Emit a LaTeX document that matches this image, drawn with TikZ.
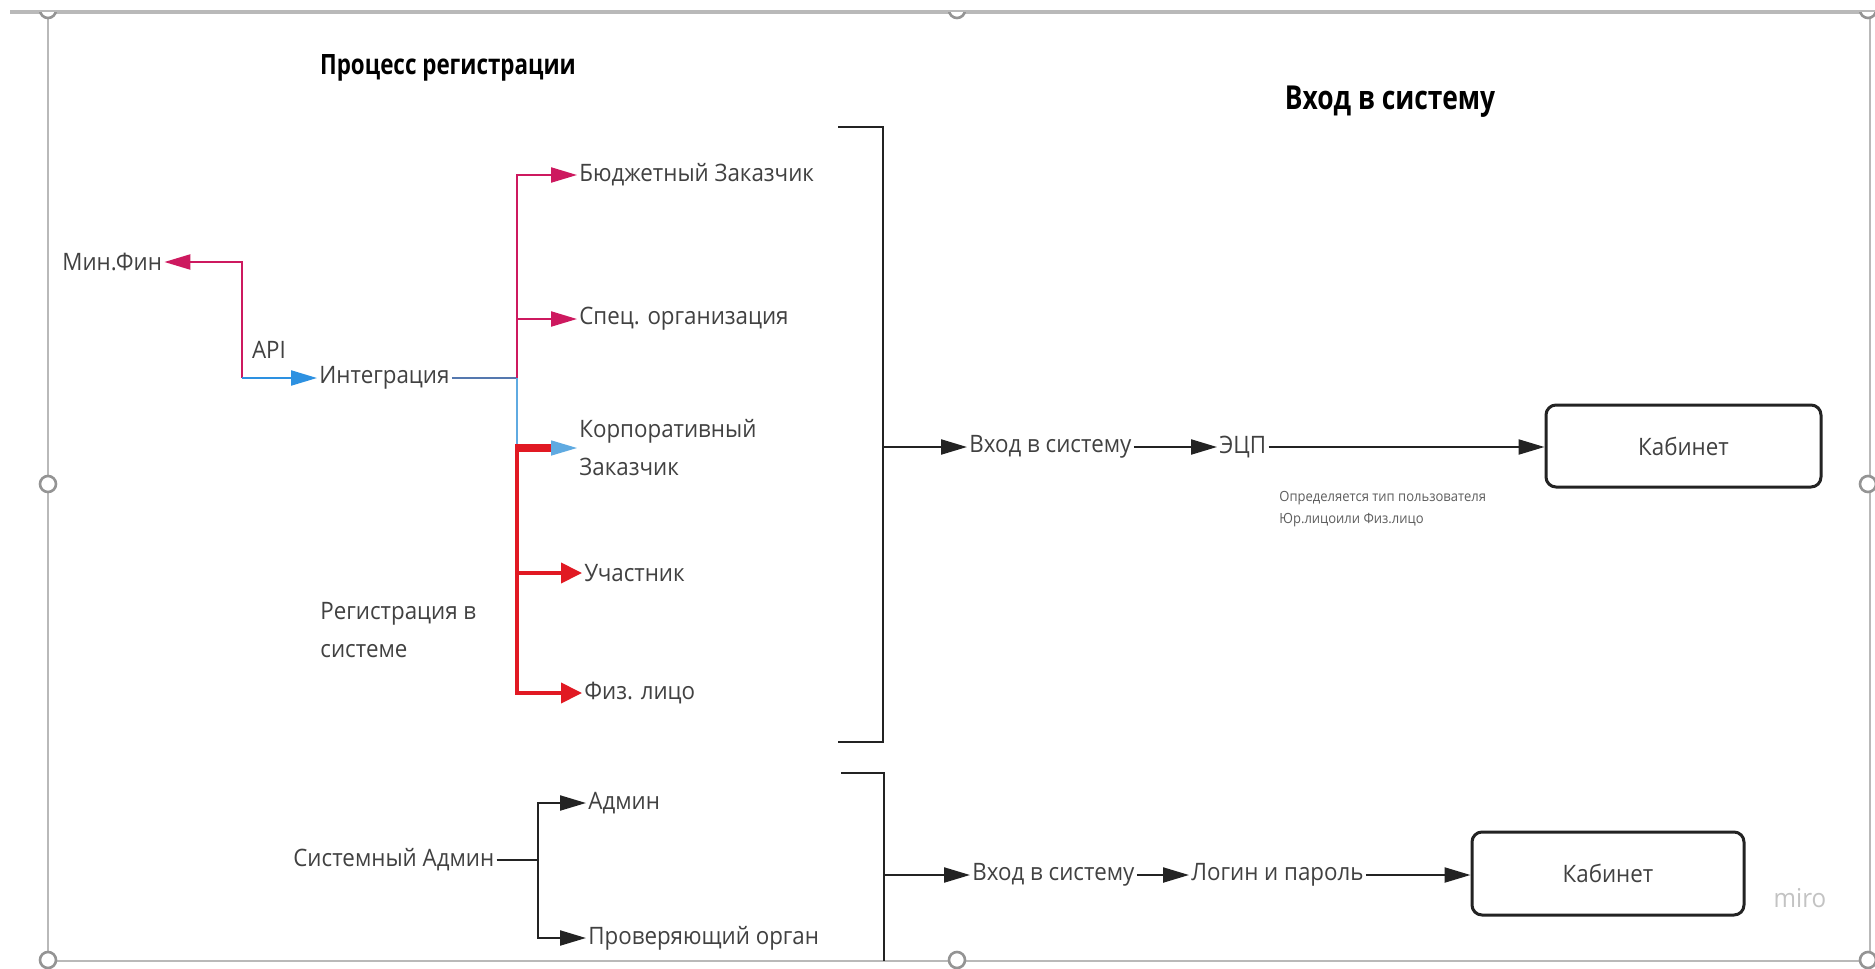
\documentclass[tikz,border=0pt]{standalone}
\usepackage{fontspec}
\setmainfont{Open Sans}[FakeStretch=0.93]
\newfontfamily\headfont{Open Sans}[FakeStretch=0.8]
\usetikzlibrary{arrows.meta,calc}

\definecolor{mag}{RGB}{205,25,95}
\definecolor{apiblue}{RGB}{45,145,225}
\definecolor{steel}{RGB}{85,120,175}
\definecolor{lblue}{RGB}{95,170,225}
\definecolor{rd}{RGB}{225,25,35}
\definecolor{ink}{RGB}{35,35,35}
\definecolor{txtc}{RGB}{65,65,65}
\definecolor{framec}{RGB}{185,185,185}
\definecolor{miroc}{RGB}{195,195,195}

\tikzset{
  txt/.style={inner sep=1pt, anchor=west, text=txtc, font=\fontsize{12}{14}\selectfont},
  heading/.style={inner sep=0pt, text=black, font=\headfont\bfseries\fontsize{14}{16}\selectfont},
  notetxt/.style={inner sep=0pt, anchor=west, text=txtc!85, font=\fontsize{7}{11}\selectfont},
  cabbox/.style={draw=ink, line width=1.5pt, rounded corners=5pt, text=txtc,
    font=\fontsize{12}{14}\selectfont},
  tipA/.style={-{Triangle[length=13pt,width=7.5pt]}},
  tipR/.style={-{Triangle[length=10.5pt,width=10pt]}},
  magline/.style={draw=mag, line width=1.1pt, tipA},
  apiline/.style={draw=apiblue, line width=1.1pt, tipA},
  steelline/.style={draw=steel, line width=0.9pt},
  lblueline/.style={draw=lblue, line width=0.8pt, tipA},
  redline/.style={draw=rd, line width=2pt, tipR},
  blkline/.style={draw=ink, line width=1.1pt},
  blkarrow/.style={blkline, tipA},
  bracket/.style={draw=ink, line width=1.1pt},
  framel/.style={draw=framec, line width=1.2pt},
  handle/.style={draw=framec!80!black, line width=1.3pt, fill=white},
}

\begin{document}
\begin{tikzpicture}[x=0.5pt,y=-0.5pt]
\useasboundingbox (0,0) rectangle (1875,969);
\fill[white] (0,0) rectangle (1875,969);

% selection frame with its handles
\draw[framel, line width=1.6pt] (10,12) -- (1875,12);
\draw[framel] (48,12) -- (48,961) -- (1875,961);
\draw[framel] (1870,12) -- (1870,969);
\begin{scope}
  \clip (0,12) rectangle (1875,40);
  \foreach \hx in {48,957,1868} \draw[handle] (\hx,10) circle[radius=4pt];
\end{scope}
\foreach \hx/\hy in {48/484,1868/484,48/960,957/960,1868/960}
  \draw[handle] (\hx,\hy) circle[radius=4pt];

% headings
\node[heading] (t1) at (448,68) {Процесс регистрации};
\node[heading, font=\headfont\bfseries\fontsize{16.5}{18}\selectfont] (t2) at (1390,102) {Вход в систему};

% registration branch
\node[txt] (minfin) at (60,262) {Мин.Фин};
\node[txt, anchor=center] (api) at (269,350) {API};
\node[txt] (integ) at (317,378) {Интеграция};
\node[txt] (budget) at (577,175) {Бюджетный Заказчик};
\node[txt] (spec) at (577,319) {Спец. организация};
\node[txt, align=left] (corp) at (577,448) {Корпоративный\\[5pt]Заказчик};
\node[txt] (uch) at (582,573) {Участник};
\node[txt] (fiz) at (582,693) {Физ. лицо};
\node[txt, align=left] (reg) at (318,630) {Регистрация в\\[5pt]системе};

% administrators
\node[txt] (sysadm) at (291,860) {Системный Админ};
\node[txt] (admin) at (586,803) {Админ};
\node[txt] (prov) at (586,938) {Проверяющий орган};

% login flows
\node[txt] (vhod1) at (967,447) {Вход в систему};
\node[txt] (ecp) at (1217,447) {ЭЦП};
\node[cabbox, minimum width=137.5pt, minimum height=41pt] (cab1) at (1683.5,446) {Кабинет};
\node[notetxt, align=left] (note) at (1279,509) {Определяется тип пользователя\\Юр.лицоили Физ.лицо};
\node[txt] (vhod2) at (970,875) {Вход в систему};
\node[txt] (login) at (1189,875) {Логин и пароль};
\node[cabbox, minimum width=136pt, minimum height=41.5pt] (cab2) at (1608,873.5) {Кабинет};
\node[inner sep=0pt, text=miroc, font=\fontsize{13}{15}\selectfont] (miro) at (1800,898) {miro};

% API connectors
\coordinate (apic) at (242,378);
\draw[magline] (apic) |- (minfin.east);
\draw[apiline] (apic) -- (integ.west);

% integration branches
\coordinate (br) at (517,378);
\draw[steelline] (integ.east) -- (br);
\draw[magline] (br) |- (budget.west);
\draw[magline] (br |- spec.west) -- (spec.west);
\draw[lblueline] (br) |- (corp.west);
\draw[draw=rd, line width=4pt] ($(br |- corp.west)+(-2,0)$) -- ($(br |- corp.west)+(34,0)$);
\draw[redline] (br |- corp.west) |- (fiz.west);
\draw[redline] (br |- uch.west) -- (uch.west);

% bracket of the registered users
\coordinate (b1a) at (838,127);
\coordinate (b1b) at (883,127);
\coordinate (b1c) at (883,742);
\coordinate (b1d) at (838,742);
\coordinate (b1m) at (883,447);
\draw[bracket] (b1a) -- (b1b) -- (b1c) -- (b1d);
\draw[blkarrow] (b1m) -- (vhod1.west);
\draw[blkarrow] (vhod1.east) -- (ecp.west);
\draw[blkarrow] (ecp.east) -- (ecp.east -| cab1.west);

% system administrator branches
\coordinate (sa) at (538,860);
\draw[blkline] (sysadm.east) -- (sa);
\draw[blkarrow] (sa) |- (admin.west);
\draw[blkarrow] (sa) |- (prov.west);

% bracket of the administrators
\coordinate (b2a) at (841,773);
\coordinate (b2b) at (884,773);
\coordinate (b2c) at (884,961);
\coordinate (b2m) at (884,875);
\draw[bracket] (b2a) -- (b2b) -- (b2c);
\draw[blkarrow] (b2m) -- (vhod2.west);
\draw[blkarrow] (vhod2.east) -- (login.west);
\draw[blkarrow] (login.east) -- (login.east -| cab2.west);
\end{tikzpicture}
\end{document}
